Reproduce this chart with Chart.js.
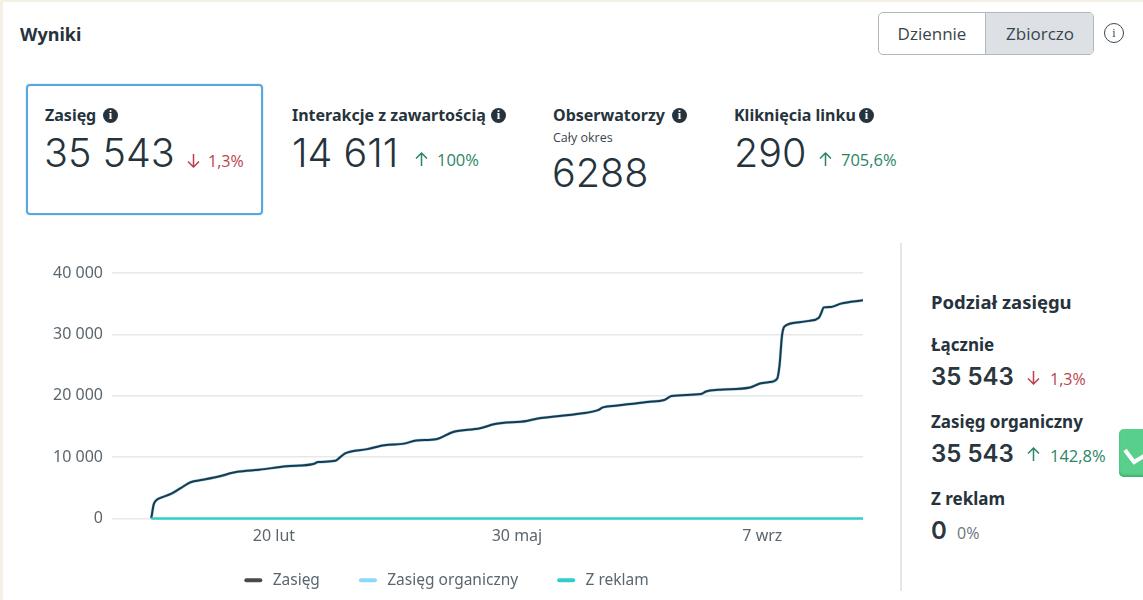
<!DOCTYPE html>
<html lang="pl">
<head>
<meta charset="utf-8">
<title>Wyniki</title>
<script src="https://cdn.jsdelivr.net/npm/chart.js@4"></script>
<style>
  html, body { margin: 0; width: 1143px; height: 600px; overflow: hidden; background: #f4f0e4; }
  body { font-family: "Open Sans", sans-serif; color: #1f2f3a; }
  .card { position: absolute; left: 3px; top: 2px; width: 1140px; height: 598px; background: #fff; }
  .t { position: absolute; white-space: nowrap; margin: 0; line-height: 1; }
  .head { font-family: "Noto Sans", sans-serif; font-weight: 700; font-size: 16px; color: #26333c; }
  .big { font-family: Inter, sans-serif; font-weight: 300; font-size: 39.5px; color: #25333d; }
  .mid { font-family: Inter, sans-serif; font-weight: 600; font-size: 24px; color: #2a3740; }
  .down { font-size: 16px; color: #bb3f4c; }
  .up { font-size: 16.5px; color: #2b8566; }
  .grey { font-size: 16px; color: #6a747b; }
  svg.arrow { position: absolute; width: 13px; height: 15px; fill: none; stroke: currentColor; stroke-width: 1.5; }
  .info { position: absolute; width: 15px; height: 15px; border-radius: 50%; background: #26333c; color: #fff;
          font: 700 12px/15px "Liberation Serif", serif; text-align: center; }
  #zasieg { position: absolute; left: 26px; top: 84px; width: 233px; height: 127px; border: 2px solid #5aa6de;
            border-radius: 4px; box-shadow: 0 0 2px #a9cfe9; }
  #toggle { position: absolute; left: 878px; top: 12px; width: 214px; height: 41px; border: 1px solid #aeb8bf;
            border-radius: 5px; overflow: hidden; background: #fff; font-size: 17px; color: #39454d; }
  #toggle span { position: absolute; top: 0; height: 41px; line-height: 41px; text-align: center; }
  #circle { position: absolute; left: 1104px; top: 23px; width: 18px; height: 18px; border: 1px solid #3c474f; border-radius: 50%;
            font: 12px/18px "Liberation Serif", serif; text-align: center; color: #3c474f; }
  #divider { position: absolute; left: 900px; top: 243px; width: 2px; height: 348px; background: #e3e6ea; }
  #greenBtn { position: absolute; left: 1119px; top: 429px; width: 30px; height: 48px; background: #58cf8b; border-radius: 5px;
              box-shadow: inset 0 -2px 2px #3fb272; }
  #chartBox { position: absolute; left: 0; top: 250px; width: 880px; height: 350px; }
</style>
</head>
<body>
<div class="card"></div>
<p class="t head" style="left:20px;top:25px;font-size:18px">Wyniki</p>

<div id="toggle">
  <span style="left:0;width:106px">Dziennie</span>
  <span style="left:106px;width:108px;background:#dde1e5;border-left:1px solid #aeb8bf">Zbiorczo</span>
</div>
<div id="circle">i</div>

<div id="zasieg"></div>
<p class="t head" style="left:45px;top:107px">Zasięg</p><div class="info" style="left:103px;top:108px">i</div>
<p class="t big" style="left:44px;top:134px">35 543</p>
<svg class="arrow down" style="left:187px;top:153px" viewBox="0 0 13 15"><path d="M6.5 1V14M1 8.5L6.5 14L12 8.5"/></svg>
<p class="t down" style="left:208px;top:153px">1,3%</p>

<p class="t head" style="left:292px;top:107px">Interakcje z zawartością</p><div class="info" style="left:491px;top:108px">i</div>
<p class="t big" style="left:292px;top:134px">14 611</p>
<svg class="arrow up" style="left:415px;top:152px" viewBox="0 0 13 15"><path d="M6.5 14V1M1 6.5L6.5 1L12 6.5"/></svg>
<p class="t up" style="left:437px;top:152px">100%</p>

<p class="t head" style="left:553px;top:107px">Obserwatorzy</p><div class="info" style="left:672px;top:108px">i</div>
<p class="t" style="left:553px;top:132px;font-size:12.5px;color:#39454d">Cały okres</p>
<p class="t big" style="left:552px;top:154px">6288</p>

<p class="t head" style="left:734px;top:107px">Kliknięcia linku</p><div class="info" style="left:859px;top:108px">i</div>
<p class="t big" style="left:734px;top:134px">290</p>
<svg class="arrow up" style="left:819px;top:152px" viewBox="0 0 13 15"><path d="M6.5 14V1M1 6.5L6.5 1L12 6.5"/></svg>
<p class="t up" style="left:841px;top:152px">705,6%</p>

<div id="chartBox"><canvas id="reachChart"></canvas></div>

<div id="divider"></div>
<p class="t head" style="left:931px;top:293px;font-size:18.5px">Podział zasięgu</p>
<p class="t head" style="left:931px;top:336px;font-size:17px">Łącznie</p>
<p class="t mid" style="left:931px;top:365px">35 543</p>
<svg class="arrow down" style="left:1027px;top:370px" viewBox="0 0 13 15"><path d="M6.5 1V14M1 8.5L6.5 14L12 8.5"/></svg>
<p class="t down" style="left:1050px;top:371px">1,3%</p>
<p class="t head" style="left:931px;top:413px;font-size:17px">Zasięg organiczny</p>
<p class="t mid" style="left:931px;top:442px">35 543</p>
<svg class="arrow up" style="left:1027px;top:447px" viewBox="0 0 13 15"><path d="M6.5 14V1M1 6.5L6.5 1L12 6.5"/></svg>
<p class="t up" style="left:1050px;top:448px">142,8%</p>
<p class="t head" style="left:931px;top:490px;font-size:17px">Z reklam</p>
<p class="t mid" style="left:931px;top:519px">0</p>
<p class="t grey" style="left:957px;top:525px">0%</p>

<div id="greenBtn">
  <svg width="30" height="48"><path d="M6 21 L15 33 L30 24" fill="none" stroke="#fff" stroke-width="4"/></svg>
</div>

<script>
// --- data ---
// days counted from the first point of the period
const reachDays = [0, 1, 2, 4, 8, 12, 16, 21, 27, 35, 44, 55, 66, 68, 75, 77, 79, 88, 95, 103, 108, 116, 123,
  134, 140, 153, 157, 175, 182, 184, 190, 202, 209, 212, 224, 226, 231, 244, 248, 252, 255, 256, 257, 258,
  264, 268, 272, 273, 274, 277, 281, 290];
const reachValues = [0, 2300, 2950, 3400, 4000, 4950, 5900, 6300, 6800, 7600, 7950, 8500, 8880, 9200, 9400, 10000,
  10600, 11300, 11950, 12200, 12700, 12900, 14100, 14700, 15400, 15900, 16250, 17100, 17650, 18100, 18400, 19000,
  19300, 19950, 20270, 20700, 20970, 21350, 22000, 22230, 22770, 25000, 29800, 31300, 31980, 32200, 32700, 33500,
  34400, 34470, 35010, 35543];
const organicValues = [0, 2300, 2950, 3400, 4000, 4950, 5900, 6300, 6800, 7600, 7950, 8500, 8880, 9200, 9400, 10000,
  10600, 11300, 11950, 12200, 12700, 12900, 14100, 14700, 15400, 15900, 16250, 17100, 17650, 18100, 18400, 19000,
  19300, 19950, 20270, 20700, 20970, 21350, 22000, 22230, 22770, 25000, 29800, 31300, 31980, 32200, 32700, 33500,
  34400, 34470, 35010, 35543];
const adsDays = [0, 290];
const adsValues = [0, 0];

const xTickDays = [50, 149, 249];
const xTickLabels = ["20 lut", "30 maj", "7 wrz"];
const seriesNames = ["Zasięg", "Zasięg organiczny", "Z reklam"];

const LINE_DARK = "#223744";
const LINE_BLUE = "#8fd6fb";
const LINE_TEAL = "#2fcfc9";
const LEGEND_DARK = "#474b4e";
const TEXT_GREY = "#5b666e";

function toPoints(days, values) {
  return days.map((d, i) => ({ x: d, y: values[i] }));
}

function formatThousands(v) {
  return String(v).replace(/\B(?=(\d{3})+$)/g, " ");
}

// --- chart setup ---
function initChart() {
  const ctx = document.getElementById("reachChart");
  ctx.style.width = "880px";
  ctx.style.height = "350px";

  new Chart(ctx, {
    type: "line",
    data: {
      datasets: [
        { label: seriesNames[0], data: toPoints(reachDays, reachValues), borderColor: LINE_DARK, order: 2 },
        { label: seriesNames[1], data: toPoints(reachDays, organicValues), borderColor: LINE_BLUE, borderWidth: 3, order: 3 },
        { label: seriesNames[2], data: toPoints(adsDays, adsValues), borderColor: LINE_TEAL, borderWidth: 2.5, clip: 4, order: 1 },
      ],
    },
    options: {
      animation: false,
      responsive: false,
      layout: { padding: { top: 23, left: 30, right: 17, bottom: 2 } },
      elements: {
        point: { radius: 0 },
        line: { borderWidth: 2, cubicInterpolationMode: "monotone" },
      },
      scales: {
        x: {
          type: "linear",
          min: -16,
          max: 290,
          grid: { display: false },
          border: { display: false },
          afterBuildTicks: (scale) => {
            scale.ticks = xTickDays.map((d) => ({ value: d }));
          },
          afterFit: (scale) => {
            scale.height = 15;
          },
          ticks: {
            // mirror keeps the labels from being clipped to the short axis box
            mirror: true,
            autoSkip: false,
            maxRotation: 0,
            padding: -28,
            color: TEXT_GREY,
            font: { family: "Noto Sans", size: 16 },
            callback: (v) => xTickLabels[xTickDays.indexOf(v)],
          },
        },
        y: {
          min: 0,
          max: 40000,
          afterFit: (scale) => {
            scale.width = 82;
          },
          grid: { color: "#e7e8e8", lineWidth: 1.5, drawTicks: false },
          border: { display: false },
          ticks: {
            stepSize: 10000,
            padding: 9,
            color: TEXT_GREY,
            font: { family: "Noto Sans", size: 16 },
            callback: formatThousands,
          },
        },
      },
      plugins: {
        tooltip: { enabled: false },
        legend: {
          position: "bottom",
          labels: {
            boxWidth: 18,
            boxHeight: 4,
            useBorderRadius: true,
            borderRadius: 2,
            padding: 39,
            color: TEXT_GREY,
            font: { family: "Noto Sans", size: 15.5 },
            generateLabels: (chart) =>
              chart.data.datasets.map((ds, i) => {
                const swatch = i === 0 ? LEGEND_DARK : ds.borderColor;
                return {
                  text: "\u2009" + ds.label,
                  datasetIndex: i,
                  fillStyle: swatch,
                  strokeStyle: swatch,
                  lineWidth: 0,
                  borderRadius: 2,
                  fontColor: TEXT_GREY,
                };
              }),
          },
        },
      },
    },
  });
}

// --- boot ---
document.addEventListener("DOMContentLoaded", () => {
  initChart();
});
</script>
</body>
</html>
